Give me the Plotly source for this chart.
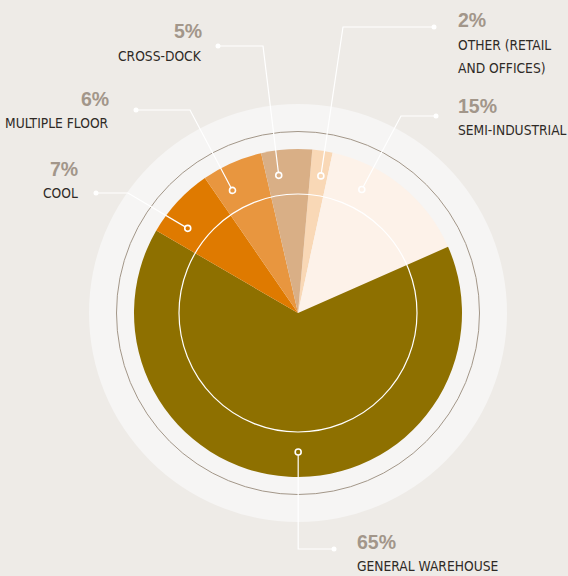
import math
import plotly.graph_objects as go

# ---------------- data ----------------
categories = ["OTHER (RETAIL\nAND OFFICES)", "SEMI-INDUSTRIAL", "GENERAL WAREHOUSE",
              "COOL", "MULTIPLE FLOOR", "CROSS-DOCK"]
shares = [2, 15, 65, 7, 6, 5]
colors = ["#F9D8B6", "#FDF2E9", "#8E7000", "#DF7A00", "#E8963F", "#D9AF86"]

# ---------------- geometry / layout (pixels) ----------------
W, H = 568, 576
CX, CY = 298, 313
R_PIE = 164
R_INNER = 119
R_RING = 181.5
R_HALO = 209
ROTATION = 5

anchor_frac = [0.62, 0.28, 0.486, 0.29, 0.30, 0.28]   # where in the slice the dot sits
anchor_r = 139
elbow_x = [343, 401, None, 128, 190, 263]
elbow_y = [27, 116, 549, 193, 110, 46]
end_x = [434, 436, 334, 96, 136, 218]
label_x = [456, 456, 355, 80, 111, 204]
label_side = ["left", "left", "left", "right", "right", "right"]
pct_y = [20, 106, 542, 168.5, 98.5, 30.5]
name_y = [45, 130, 566, 193, 122.5, 56]
LINE_STEP = 22.5

BG = "#EEEBE7"
HALO = "#F6F5F4"
RING = "#A39789"
PCT_COLOR = "#A2968A"
TXT_COLOR = "#2E2A26"
NARROW = "DejaVu Sans Condensed, Liberation Sans Narrow, sans-serif"

total = sum(shares)

fig = go.Figure()

fig.add_trace(go.Pie(
    labels=categories, values=shares, sort=False, direction="clockwise",
    rotation=ROTATION, marker=dict(colors=colors, line=dict(width=0)),
    textinfo="none", hoverinfo="skip", showlegend=False,
    domain=dict(x=[(CX - R_PIE) / W, (CX + R_PIE) / W],
                y=[(H - CY - R_PIE) / H, (H - CY + R_PIE) / H]),
))

shapes = []
# background halo & ring
shapes.append(dict(type="circle", xref="x", yref="y", layer="below",
                   x0=CX - R_HALO, x1=CX + R_HALO, y0=CY - R_HALO, y1=CY + R_HALO,
                   fillcolor=HALO, line=dict(width=0)))
shapes.append(dict(type="circle", xref="x", yref="y", layer="below",
                   x0=CX - R_RING, x1=CX + R_RING, y0=CY - R_RING, y1=CY + R_RING,
                   line=dict(color=RING, width=1)))
# inner white circle over the pie
shapes.append(dict(type="circle", xref="x", yref="y", layer="above",
                   x0=CX - R_INNER, x1=CX + R_INNER, y0=CY - R_INNER, y1=CY + R_INNER,
                   line=dict(color="white", width=1.2)))

annotations = []
end_xs, end_ys = [], []
cum = 0
for i, v in enumerate(shares):
    start = ROTATION + 360 * cum / total
    width = 360 * v / total
    cum += v
    a = math.radians(start + anchor_frac[i] * width)
    ax = CX + anchor_r * math.sin(a)
    ay = CY - anchor_r * math.cos(a)
    ex = elbow_x[i] if elbow_x[i] is not None else ax
    ey = elbow_y[i]
    shapes.append(dict(type="path", xref="x", yref="y", layer="above",
                       path=f"M{ax:.2f},{ay:.2f} L{ex:.2f},{ey:.2f} L{end_x[i]:.2f},{ey:.2f}",
                       line=dict(color="white", width=1.2)))
    shapes.append(dict(type="circle", xref="x", yref="y", layer="above",
                       x0=ax - 3, x1=ax + 3, y0=ay - 3, y1=ay + 3,
                       fillcolor=colors[i], line=dict(color="white", width=1.6)))
    end_xs.append(end_x[i])
    end_ys.append(ey)

    xa = "left" if label_side[i] == "left" else "right"
    annotations.append(dict(x=label_x[i], y=pct_y[i], xref="x", yref="y",
                            text=f"<b>{v}%</b>", showarrow=False, xanchor=xa, yanchor="middle",
                            font=dict(family="Liberation Sans, Arial, sans-serif", size=19.5,
                                      color=PCT_COLOR)))
    for k, line in enumerate(categories[i].split("\n")):
        annotations.append(dict(x=label_x[i], y=name_y[i] + k * LINE_STEP, xref="x", yref="y",
                                text=line, showarrow=False, xanchor=xa, yanchor="middle",
                                font=dict(family=NARROW, size=13.7, color=TXT_COLOR)))

fig.add_trace(go.Scatter(x=end_xs, y=end_ys, mode="markers", hoverinfo="skip",
                         marker=dict(color="white", size=5), showlegend=False))

fig.update_layout(
    width=W, height=H, margin=dict(l=0, r=0, t=0, b=0),
    paper_bgcolor=BG, plot_bgcolor="rgba(0,0,0,0)",
    xaxis=dict(range=[0, W], visible=False, fixedrange=True, domain=[0, 1]),
    yaxis=dict(range=[H, 0], visible=False, fixedrange=True, domain=[0, 1]),
    shapes=shapes, annotations=annotations, showlegend=False,
)

fig.write_html("out.html", config={"displayModeBar": False},
               post_script="document.body.style.margin='0';document.body.style.overflow='hidden';")
